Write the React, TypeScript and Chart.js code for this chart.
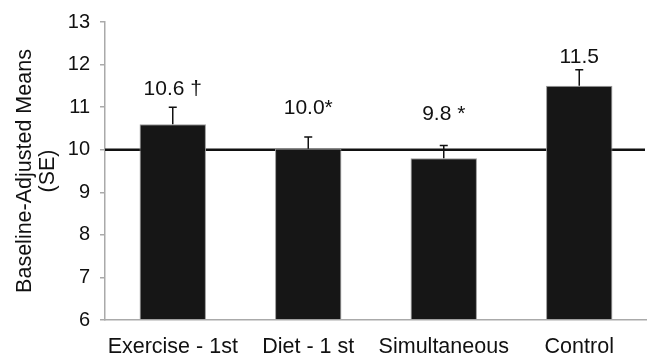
import React, { useEffect, useRef } from "react";
import { Chart, registerables } from "chart.js";

Chart.register(...registerables);

const categories = ["Exercise - 1st", "Diet - 1 st", "Simultaneous", "Control"];
const means = [10.6, 10.02, 9.8, 11.5];
const upperSE = [11.0, 10.3, 10.1, 11.88];
const barLabels = ["10.6 †", "10.0*", "9.8 *", "11.5"];
const labelAt = [11.43, 10.97, 10.84, 12.18];
const referenceValue = 10;
const yTicks = [6, 7, 8, 9, 10, 11, 12, 13];

const FONT = "'Liberation Sans', Arial, Helvetica, sans-serif";

const overlayPlugin = {
  id: "overlay",
  beforeDatasetsDraw(chart: any) {
    const { ctx, chartArea, scales } = chart;
    const y = scales.y.getPixelForValue(referenceValue);
    ctx.save();
    ctx.strokeStyle = "#111";
    ctx.lineWidth = 2.5;
    ctx.beginPath();
    ctx.moveTo(chartArea.left, y);
    ctx.lineTo(chartArea.right - 2, y);
    ctx.stroke();
    ctx.restore();
  },
  afterDatasetsDraw(chart: any) {
    const { ctx, scales } = chart;
    const meta = chart.getDatasetMeta(0);
    ctx.save();
    ctx.strokeStyle = "#111";
    ctx.lineWidth = 1.5;
    meta.data.forEach((bar: any, i: number) => {
      const x = bar.x;
      const yTop = scales.y.getPixelForValue(means[i]);
      const yCap = scales.y.getPixelForValue(upperSE[i]);
      ctx.beginPath();
      ctx.moveTo(x, yTop);
      ctx.lineTo(x, yCap);
      ctx.moveTo(x - 4, yCap);
      ctx.lineTo(x + 4, yCap);
      ctx.stroke();
    });
    ctx.fillStyle = "#111";
    ctx.font = `21px ${FONT}`;
    ctx.textAlign = "center";
    ctx.textBaseline = "middle";
    meta.data.forEach((bar: any, i: number) => {
      ctx.fillText(barLabels[i], bar.x, scales.y.getPixelForValue(labelAt[i]));
    });
    ctx.restore();
  },
};

export default function App() {
  const ref = useRef<HTMLCanvasElement>(null);
  useEffect(() => {
    if (!ref.current) return;
    const chart = new Chart(ref.current, {
      type: "bar",
      data: {
        labels: categories,
        datasets: [
          {
            data: means,
            backgroundColor: "#161616",
            borderColor: "#9a9a9a",
            borderWidth: 1,
            categoryPercentage: 1,
            barPercentage: 0.49,
            base: 6,
          },
        ],
      },
      options: {
        animation: false,
        responsive: false,
        maintainAspectRatio: false,
        layout: { padding: { top: 21, right: 0, left: 0, bottom: 0 } },
        plugins: { legend: { display: false }, tooltip: { enabled: false } },
        scales: {
          x: {
            grid: { display: false },
            border: { display: true, color: "#aaaaaa", width: 1.5 },
            ticks: {
              color: "#111",
              font: { size: 21.5, family: FONT },
              padding: 6,
              maxRotation: 0,
              minRotation: 0,
              autoSkip: false,
            },
            afterFit(scale: any) {
              scale.height = 36;
            },
          },
          y: {
            min: 6,
            max: 13,
            afterBuildTicks(scale: any) {
              scale.ticks = yTicks.map((v) => ({ value: v }));
            },
            grid: { drawOnChartArea: false, drawTicks: true, tickLength: 5, color: "#aaaaaa", lineWidth: 1.5 },
            border: { display: true, color: "#aaaaaa", width: 1.5 },
            ticks: { color: "#111", font: { size: 20, family: FONT }, padding: 10 },
            title: {
              display: true,
              text: ["Baseline-Adjusted Means", "(SE)"],
              color: "#111",
              font: { size: 21.5, family: FONT, lineHeight: 1.05 },
              padding: { top: 14, bottom: 0 },
            },
            afterFit(scale: any) {
              scale.width = 105;
            },
          },
        },
      },
      plugins: [overlayPlugin],
    });
    return () => chart.destroy();
  }, []);
  return (
    <div style={{ position: "fixed", left: 0, top: 0, width: 647, height: 356, background: "#fff" }}>
      <canvas ref={ref} width={647} height={356} style={{ width: 647, height: 356 }} />
    </div>
  );
}
